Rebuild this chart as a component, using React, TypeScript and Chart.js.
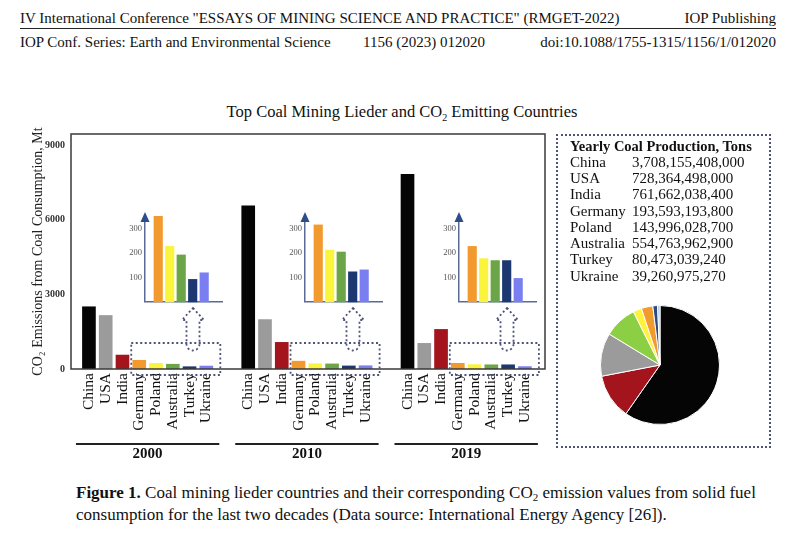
import React, { useEffect, useRef } from "react";
import { Chart, registerables } from "chart.js";
Chart.register(...registerables);

const FONT = "'Liberation Serif', 'Times New Roman', serif";

// ---- data ----
const countries = ["China", "USA", "India", "Germany", "Poland", "Australia", "Turkey", "Ukraine"];
const years = ["2000", "2010", "2019"];
const emissions2000 = [2500, 2150, 560, 350, 227, 192, 92, 119];
const emissions2010 = [6550, 1985, 1070, 315, 212, 204, 123, 131];
const emissions2019 = [7820, 1030, 1590, 227, 177, 169, 169, 96];
const yTicks = [0, 3000, 6000, 9000];
const insetTicks = [100, 200, 300];
const productionTons = [3708155408000, 728364498000, 761662038400, 193593193800, 143996028700, 554763962900, 80473039240, 39260975270];
const pieOrder = ["China", "India", "USA", "Australia", "Poland", "Germany", "Turkey", "Ukraine"];

// ---- styles / layout ----
const barColors = ["#050505", "#9b9b9b", "#a3141c", "#f39a2e", "#fbf43c", "#6ba547", "#1d3770", "#7a7ef0"];
const pieColors: Record<string, string> = {
  China: "#050505", India: "#a3141c", USA: "#9b9b9b", Australia: "#8ccf45",
  Poland: "#fff23a", Germany: "#f19a2d", Turkey: "#2a4a80", Ukraine: "#a8c4ec",
};
const GROUP_STEP = 9.5;
const INSET_AXIS_X = [145, 305, 459];
const INSET_TOP = 220;
const AXIS_BLUE = "#5a6b96";
const DOT_COLOR = "#4d5378";

function MainChart() {
  const ref = useRef<HTMLCanvasElement>(null);
  useEffect(() => {
    const series = [emissions2000, emissions2010, emissions2019];
    const points: { x: number; y: number }[] = [];
    const colors: string[] = [];
    const tickPositions: number[] = [];
    series.forEach((vals, g) =>
      vals.forEach((v, i) => {
        const x = g * GROUP_STEP + i;
        points.push({ x, y: v });
        colors.push(barColors[i]);
        tickPositions.push(x);
      })
    );
    const decor = {
      id: "decor",
      afterDraw(chart: any) {
        const { ctx, chartArea: a, scales } = chart;
        const xs = scales.x;
        ctx.save();
        ctx.strokeStyle = "#3a3a3a";
        ctx.lineWidth = 1.5;
        ctx.strokeRect(a.left, a.top, a.right - a.left, a.bottom - a.top);
        years.forEach((yr, g) => {
          const first = xs.getPixelForValue(g * GROUP_STEP);
          const last = xs.getPixelForValue(g * GROUP_STEP + countries.length - 1);
          const g0 = xs.getPixelForValue(g * GROUP_STEP + 3);
          // dotted box
          ctx.setLineDash([2, 2.5]);
          ctx.strokeStyle = DOT_COLOR;
          ctx.lineWidth = 1.8;
          ctx.strokeRect(g0 - 8, a.bottom - 26, last + 14 - (g0 - 8), 32);
          // hollow arrow
          const cx = INSET_AXIS_X[g] + 48;
          const tip = INSET_TOP + 88;
          const headY = tip + 12;
          const shaftBot = tip + 36;
          ctx.beginPath();
          ctx.moveTo(cx, tip);
          ctx.lineTo(cx + 11, headY);
          ctx.lineTo(cx + 6.5, headY);
          ctx.lineTo(cx + 6.5, shaftBot);
          ctx.arc(cx, shaftBot, 6.5, 0, Math.PI, false);
          ctx.lineTo(cx - 6.5, headY);
          ctx.lineTo(cx - 11, headY);
          ctx.closePath();
          ctx.stroke();
          ctx.setLineDash([]);
          // group underline + year
          ctx.strokeStyle = "#222";
          ctx.lineWidth = 2;
          ctx.beginPath();
          ctx.moveTo(first - 13, a.bottom + 75);
          ctx.lineTo(last + 13, a.bottom + 75);
          ctx.stroke();
          ctx.fillStyle = "#111";
          ctx.font = `bold 15px ${FONT}`;
          ctx.textAlign = "center";
          ctx.textBaseline = "middle";
          ctx.fillText(yr, (first + last) / 2, a.bottom + 85);
        });
        ctx.restore();
      },
    };
    const chart = new Chart(ref.current as HTMLCanvasElement, {
      type: "bar",
      data: {
        datasets: [
          { data: points as any, backgroundColor: colors, barThickness: 13, borderWidth: 0 },
        ],
      },
      options: {
        animation: false,
        responsive: false,
        maintainAspectRatio: false,
        layout: { padding: { top: 134, right: 15, left: 0, bottom: 0 } },
        plugins: { legend: { display: false }, tooltip: { enabled: false } },
        scales: {
          x: {
            type: "linear",
            offset: false,
            min: -1.07,
            max: 27.2,
            grid: { display: false, drawTicks: false, offset: false },
            border: { display: false },
            afterBuildTicks: (axis: any) => {
              axis.ticks = tickPositions.map((v) => ({ value: v }));
            },
            afterFit: (s: any) => {
              s.height = 101;
            },
            ticks: {
              autoSkip: false,
              minRotation: 90,
              maxRotation: 90,
              padding: 4,
              color: "#111",
              font: { family: FONT, size: 15.5 },
              callback: (_v: any, i: number) => countries[i % countries.length],
            },
          },
          y: {
            min: 0,
            max: 9440,
            afterBuildTicks: (axis: any) => {
              axis.ticks = yTicks.map((v) => ({ value: v }));
            },
            afterFit: (s: any) => {
              s.width = 71;
            },
            grid: { display: false, drawTicks: false },
            border: { display: false },
            ticks: {
              padding: 6,
              color: "#333",
              font: { family: FONT, size: 10, weight: "bold" },
              callback: (v: any) => String(v),
            },
            title: {
              display: true,
              text: "CO₂ Emissions from Coal Consumption, Mt",
              color: "#222",
              font: { family: FONT, size: 14 },
              padding: { top: 30, bottom: 0 },
            },
          },
        },
      } as any,
      plugins: [decor],
    });
    return () => chart.destroy();
  }, []);
  return (
    <canvas ref={ref} width={560} height={470} style={{ position: "absolute", left: 0, top: 0, width: 560, height: 470 }} />
  );
}

function Inset({ values, axisX }: { values: number[]; axisX: number }) {
  const ref = useRef<HTMLCanvasElement>(null);
  useEffect(() => {
    const arrow = {
      id: "arrowHead",
      afterDraw(chart: any) {
        const { ctx, chartArea: a } = chart;
        ctx.save();
        ctx.fillStyle = "#2c4c8c";
        ctx.beginPath();
        ctx.moveTo(a.left, a.top - 8);
        ctx.lineTo(a.left + 4.5, a.top + 2);
        ctx.lineTo(a.left - 4.5, a.top + 2);
        ctx.closePath();
        ctx.fill();
        ctx.restore();
      },
    };
    const small = values.slice(3);
    const chart = new Chart(ref.current as HTMLCanvasElement, {
      type: "bar",
      data: {
        datasets: [
          {
            data: small.map((v, i) => ({ x: i, y: v })) as any,
            backgroundColor: barColors.slice(3),
            barThickness: 8.5,
            borderWidth: 0,
            clip: false,
          } as any,
        ],
      },
      options: {
        animation: false,
        responsive: false,
        maintainAspectRatio: false,
        layout: { padding: { top: 12, right: 4, bottom: 3, left: 0 } },
        plugins: { legend: { display: false }, tooltip: { enabled: false } },
        scales: {
          x: {
            type: "linear",
            offset: false,
            min: -1.15,
            max: 5.55,
            ticks: { display: false },
            grid: { display: false, drawTicks: false, offset: false },
            border: { display: true, color: AXIS_BLUE, width: 1.5 },
            afterFit: (s: any) => {
              s.height = 0;
            },
          },
          y: {
            min: 0,
            max: 335,
            afterBuildTicks: (axis: any) => {
              axis.ticks = insetTicks.map((v) => ({ value: v }));
            },
            afterFit: (s: any) => {
              s.width = 20;
            },
            grid: { display: false, drawTicks: false },
            border: { display: true, color: AXIS_BLUE, width: 1.5 },
            ticks: { padding: 3, color: "#555", font: { family: FONT, size: 8.5 } },
          },
        },
      } as any,
      plugins: [arrow],
    });
    return () => chart.destroy();
  }, [values]);
  return (
    <canvas
      ref={ref}
      width={101}
      height={102}
      style={{ position: "absolute", left: axisX - 20, top: INSET_TOP - 12, width: 101, height: 102 }}
    />
  );
}

function PieChart() {
  const ref = useRef<HTMLCanvasElement>(null);
  useEffect(() => {
    const values = pieOrder.map((c) => productionTons[countries.indexOf(c)]);
    const chart = new Chart(ref.current as HTMLCanvasElement, {
      type: "pie",
      data: {
        labels: pieOrder,
        datasets: [
          {
            data: values,
            backgroundColor: pieOrder.map((c) => pieColors[c]),
            borderColor: "#ffffff",
            borderWidth: 1,
            hoverOffset: 0,
          },
        ],
      },
      options: {
        animation: false,
        responsive: false,
        maintainAspectRatio: false,
        layout: { padding: 4 },
        plugins: { legend: { display: false }, tooltip: { enabled: false } },
      } as any,
    });
    return () => chart.destroy();
  }, []);
  return (
    <canvas ref={ref} width={128} height={128} style={{ position: "absolute", left: 596, top: 301, width: 128, height: 128 }} />
  );
}

export default function App() {
  const txt: React.CSSProperties = { position: "absolute", fontFamily: FONT, color: "#111", whiteSpace: "nowrap" };
  const rowH = 16.25;
  return (
    <div style={{ position: "absolute", left: 0, top: 0, width: 800, height: 534, background: "#fff", overflow: "hidden" }}>
      {/* header */}
      <div style={{ ...txt, left: 20, top: 9, fontSize: 15, lineHeight: "18px" }}>
        IV International Conference "ESSAYS OF MINING SCIENCE AND PRACTICE" (RMGET-2022)
      </div>
      <div style={{ ...txt, right: 24, top: 9, fontSize: 15, lineHeight: "18px" }}>IOP Publishing</div>
      <div style={{ position: "absolute", left: 20, top: 28, width: 756, height: 1, background: "#222" }} />
      <div style={{ ...txt, left: 20, top: 33, fontSize: 15, lineHeight: "18px" }}>
        IOP Conf. Series: Earth and Environmental Science
      </div>
      <div style={{ ...txt, left: 363, top: 33, fontSize: 15, lineHeight: "18px" }}>1156 (2023) 012020</div>
      <div style={{ ...txt, right: 24, top: 33, fontSize: 15, lineHeight: "18px" }}>doi:10.1088/1755-1315/1156/1/012020</div>

      {/* title */}
      <div style={{ ...txt, left: 402, top: 102, transform: "translateX(-50%)", fontSize: 16.5, lineHeight: "20px" }}>
        Top Coal Mining Lieder and CO<sub style={{ fontSize: 10, verticalAlign: "-4px", lineHeight: 0 }}>2</sub> Emitting Countries
      </div>

      <MainChart />
      <Inset values={emissions2000} axisX={INSET_AXIS_X[0]} />
      <Inset values={emissions2010} axisX={INSET_AXIS_X[1]} />
      <Inset values={emissions2019} axisX={INSET_AXIS_X[2]} />

      {/* right panel */}
      <div style={{ position: "absolute", left: 556, top: 134, width: 215, height: 314, border: `2px dotted ${DOT_COLOR}`, boxSizing: "border-box" }} />
      <div style={{ ...txt, left: 570, top: 145.7 - rowH / 2, fontSize: 14.5, fontWeight: "bold", lineHeight: `${rowH}px` }}>
        Yearly Coal Production, Tons
      </div>
      {countries.map((c, i) => (
        <React.Fragment key={c}>
          <div style={{ ...txt, left: 570, top: 145.7 + rowH * (i + 1) - rowH / 2, fontSize: 15, lineHeight: `${rowH}px` }}>{c}</div>
          <div style={{ ...txt, left: 632, top: 145.7 + rowH * (i + 1) - rowH / 2, fontSize: 15, lineHeight: `${rowH}px` }}>
            {productionTons[i].toLocaleString("en-US")}
          </div>
        </React.Fragment>
      ))}
      <PieChart />

      {/* caption */}
      <div style={{ ...txt, left: 76, top: 482, fontSize: 17, lineHeight: "22px" }}>
        <b>Figure 1.</b> Coal mining lieder countries and their corresponding CO
        <sub style={{ fontSize: 11, verticalAlign: "-3px", lineHeight: 0 }}>2</sub> emission values from solid fuel
        <br />
        consumption for the last two decades (Data source: International Energy Agency [26]).
      </div>
    </div>
  );
}
